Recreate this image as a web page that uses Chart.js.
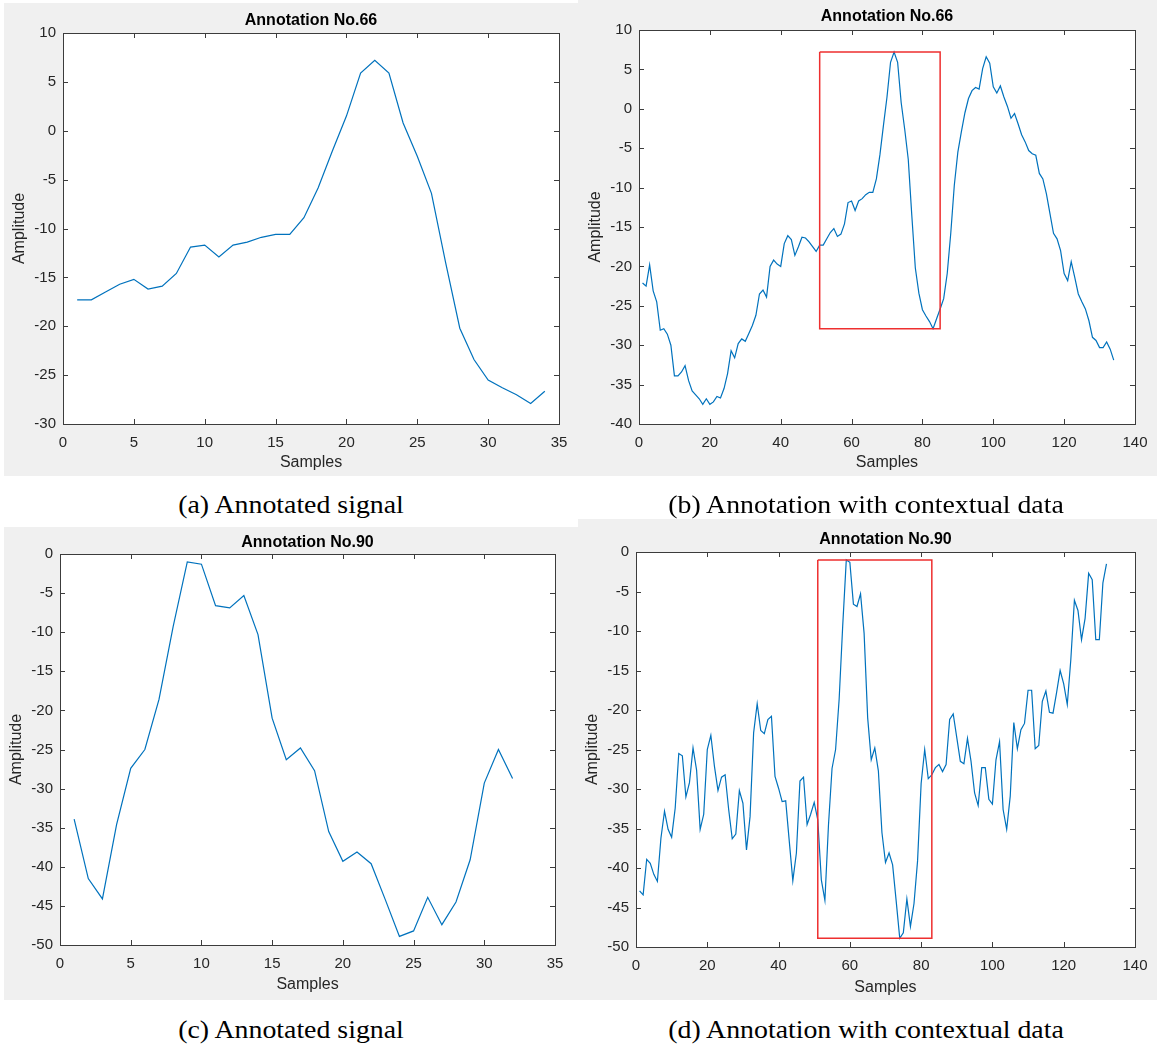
<!DOCTYPE html>
<html>
<head>
<meta charset="utf-8">
<script src="https://cdn.jsdelivr.net/npm/chart.js@4.4.1/dist/chart.umd.min.js"></script>
<style>
  html, body { margin: 0; padding: 0; background: #ffffff; }
  body { width: 1157px; height: 1047px; position: relative; overflow: hidden; }
  .panel { position: absolute; background: #f0f0f0; }
  .panel canvas { display: block; }
  .caption {
    position: absolute;
    font-family: "Liberation Serif", "Times New Roman", serif;
    font-size: 26px;
    line-height: 30px;
    color: #000;
    white-space: nowrap;
    transform: translateX(-50%) scaleX(1.07);
  }
</style>
</head>
<body>
<div class="panel" id="panelA"><canvas id="chartA"></canvas></div>
<div class="panel" id="panelB"><canvas id="chartB"></canvas></div>
<div class="panel" id="panelC"><canvas id="chartC"></canvas></div>
<div class="panel" id="panelD"><canvas id="chartD"></canvas></div>

<div class="caption" style="left:291px; top:490px;">(a) Annotated signal</div>
<div class="caption" style="left:866px; top:490px;">(b) Annotation with contextual data</div>
<div class="caption" style="left:291px; top:1015px;">(c) Annotated signal</div>
<div class="caption" style="left:866px; top:1015px;">(d) Annotation with contextual data</div>

<script>
// ---- Annotation No.66 ----
const annotated66 = [-17.3, -17.3, -16.5, -15.7, -15.2, -16.2, -15.9, -14.6, -11.9, -11.7,
  -12.9, -11.7, -11.4, -10.9, -10.6, -10.6, -8.9, -5.85, -2.1, 1.5,
  5.9, 7.2, 5.9, 0.8, -2.6, -6.4, -13.5, -20.2, -23.4, -25.5,
  -26.3, -27.0, -27.9, -26.65];
const before66 = [-22.1, -22.5, -19.8, -23.1, -24.5, -28.1, -27.9, -28.6, -30.0, -33.9,
  -33.9, -33.4, -32.6, -34.5, -35.8, -36.3, -36.8, -37.5, -36.8, -37.5,
  -37.2, -36.5, -36.7, -35.5, -33.6, -30.7, -31.6, -29.8, -29.2, -29.5,
  -28.5, -27.5, -26.2, -23.5, -23.0, -23.9, -20.0, -19.2, -19.7, -20.0,
  -17.1, -16.1, -16.6, -18.6, -17.5, -16.3, -16.4, -16.9, -17.5, -18.1];
const after66 = [-25.4, -24.1, -20.9, -15.8, -9.7, -5.5, -2.9, -0.5, 1.3, 2.3,
  2.7, 2.5, 5.1, 6.6, 5.8, 2.8, 2.0, 2.9, 1.5, 0.3,
  -1.2, -0.6, -1.9, -3.3, -4.2, -5.3, -5.7, -5.9, -8.2, -8.9,
  -10.8, -13.3, -15.8, -16.5, -18.0, -20.9, -21.8, -19.4, -21.4, -23.5,
  -24.5, -25.4, -26.9, -29.0, -29.4, -30.3, -30.3, -29.6, -30.5, -31.9];

// ---- Annotation No.90 ----
const annotated90 = [-33.9, -41.5, -44.1, -34.6, -27.4, -25.0, -18.6, -9.3, -1.0, -1.3,
  -6.6, -6.9, -5.3, -10.3, -21.0, -26.3, -24.8, -27.7, -35.5, -39.3,
  -38.1, -39.6, -44.2, -48.9, -48.2, -43.9, -47.4, -44.5, -39.1, -29.3,
  -25.0, -28.7];
const before90 = [-42.9, -43.4, -38.9, -39.4, -40.8, -41.7, -36.2, -32.8, -35.1, -36.1,
  -32.4, -25.5, -25.8, -31.0, -29.2, -24.8, -27.6, -35.1, -33.2, -25.0,
  -23.2, -27.1, -30.2, -28.5, -28.2, -32.6, -36.3, -35.7, -30.2, -31.8,
  -37.7, -33.5, -22.9, -19.2, -22.6, -23.0, -21.2, -20.8, -28.4, -29.9,
  -31.6, -31.5, -36.6, -41.6, -38.1, -29.0, -28.5, -34.5, -33.2, -31.7];
const after90 = [-28.2, -27.3, -26.9, -27.8, -26.9, -21.2, -20.5, -23.5, -26.5, -26.8,
  -23.6, -26.5, -30.5, -32.1, -27.3, -27.3, -31.3, -31.9, -26.3, -24.0,
  -32.6, -35.1, -30.9, -21.6, -24.9, -22.5, -21.7, -17.5, -17.5, -24.9,
  -24.5, -18.9, -17.6, -20.3, -20.4, -17.8, -15.0, -16.7, -19.3, -13.6,
  -6.1, -7.4, -11.1, -8.4, -2.7, -3.5, -11.1, -11.1, -3.9, -1.5];

// ---- Tick labels ----
const xTicksSignal = [0, 5, 10, 15, 20, 25, 30, 35];
const xTicksContext = [0, 20, 40, 60, 80, 100, 120, 140];
const yTicks66 = [-30, -25, -20, -15, -10, -5, 0, 5, 10];
const yTicks66Context = [-40, -35, -30, -25, -20, -15, -10, -5, 0, 5, 10];
const yTicks90 = [-50, -45, -40, -35, -30, -25, -20, -15, -10, -5, 0];

const titles = ['Annotation No.66', 'Annotation No.90'];
const xLabel = 'Samples';
const yLabel = 'Amplitude';
const annotationStart = 51; // sample index where the annotated segment begins inside the context window

// ---- styling ----
const SANS = '"Liberation Sans", Arial, Helvetica, sans-serif';
const TEXT = '#262626';
const AXIS = '#3c3c3c';
const LINE = '#0072bd';
const BOX = '#ee2f2f';
const TICK_LEN = 5;
const TICK_FONT = 15;
const LABEL_FONT = 16;
const TITLE_FONT = 16;

function toPoints(values, firstX) {
  return values.map((v, i) => ({ x: firstX + i, y: v }));
}

// Red rectangle outlining the annotated segment inside its context window
function boxOutline(segment, start) {
  const lo = Math.min(...segment), hi = Math.max(...segment);
  const x0 = start, x1 = start + segment.length;
  return [{ x: x0, y: hi }, { x: x1, y: hi }, { x: x1, y: lo }, { x: x0, y: lo }, { x: x0, y: hi }];
}

// MATLAB-like axes: white plot area, full box and inward ticks on all four sides
const matlabAxes = {
  id: 'matlabAxes',
  beforeDatasetsDraw(chart) {
    const { ctx, chartArea: a } = chart;
    ctx.save();
    ctx.fillStyle = '#ffffff';
    ctx.fillRect(a.left, a.top, a.right - a.left, a.bottom - a.top);
    ctx.restore();
  },
  afterDraw(chart) {
    const { ctx, chartArea: a, scales } = chart;
    ctx.save();
    ctx.strokeStyle = AXIS;
    ctx.lineWidth = 1;
    ctx.beginPath();
    scales.x.ticks.forEach(t => {
      const px = Math.round(scales.x.getPixelForValue(t.value)) + 0.5;
      ctx.moveTo(px, a.bottom); ctx.lineTo(px, a.bottom - TICK_LEN);
      ctx.moveTo(px, a.top); ctx.lineTo(px, a.top + TICK_LEN);
    });
    scales.y.ticks.forEach(t => {
      const py = Math.round(scales.y.getPixelForValue(t.value)) + 0.5;
      ctx.moveTo(a.left, py); ctx.lineTo(a.left + TICK_LEN, py);
      ctx.moveTo(a.right, py); ctx.lineTo(a.right - TICK_LEN, py);
    });
    ctx.stroke();
    ctx.strokeRect(Math.round(a.left) + 0.5, Math.round(a.top) + 0.5,
      Math.round(a.right - a.left), Math.round(a.bottom - a.top));
    ctx.restore();
  }
};

function makePanel(cfg) {
  const g = cfg.geom;
  const panel = document.getElementById(cfg.panel);
  panel.style.left = g.x + 'px';
  panel.style.top = g.y + 'px';
  panel.style.width = g.w + 'px';
  panel.style.height = g.h + 'px';
  const canvas = document.getElementById(cfg.canvas);
  canvas.width = g.w;
  canvas.height = g.h;

  const titleLH = TITLE_FONT * 1.2;
  const labelLH = LABEL_FONT * 1.2;
  const tickLH = TICK_FONT * 1.2;
  const titleTop = g.titleY - g.y - titleLH / 2;
  const titleBottom = (g.t - g.y) - titleLH - titleTop;
  const yWidth = g.l - g.x;
  const xHeight = (g.y + g.h) - g.b;
  const padRight = (g.x + g.w) - g.r;
  const xTitlePad = (g.y + g.h) - g.xTitleY - labelLH / 2;
  const yTitlePad = g.yTitleX - g.x - labelLH / 2;

  const datasets = [{
    data: cfg.series,
    borderColor: LINE,
    borderWidth: 1.2,
    pointRadius: 0,
    tension: 0,
    fill: false,
    order: 1
  }];
  if (cfg.box) {
    datasets.push({
      data: cfg.box,
      borderColor: BOX,
      borderWidth: 1.5,
      pointRadius: 0,
      tension: 0,
      fill: false,
      order: 0
    });
  }

  return new Chart(canvas, {
    type: 'line',
    data: { datasets },
    options: {
      responsive: false,
      animation: false,
      devicePixelRatio: 1,
      events: [],
      layout: { padding: { left: 0, top: 0, right: padRight, bottom: 0 } },
      plugins: {
        legend: { display: false },
        tooltip: { enabled: false },
        title: {
          display: true,
          fullSize: false,
          text: cfg.title,
          color: '#000000',
          font: { family: SANS, size: TITLE_FONT, weight: 'bold', lineHeight: 1.2 },
          padding: { top: titleTop, bottom: titleBottom }
        }
      },
      scales: {
        x: {
          type: 'linear',
          min: cfg.xTicks[0],
          max: cfg.xTicks[cfg.xTicks.length - 1],
          grid: { display: false, drawTicks: false },
          border: { display: false },
          ticks: { color: TEXT, font: { family: SANS, size: TICK_FONT, lineHeight: 1.2 },
                   padding: 18.5 - tickLH / 2, maxRotation: 0, autoSkip: false },
          title: { display: true, text: xLabel, color: TEXT, font: { family: SANS, size: LABEL_FONT, lineHeight: 1.2 },
                   padding: { top: 0, bottom: xTitlePad } },
          afterBuildTicks: s => { s.ticks = cfg.xTicks.map(v => ({ value: v })); },
          afterFit: s => { s.height = xHeight; }
        },
        y: {
          type: 'linear',
          min: cfg.yTicks[0],
          max: cfg.yTicks[cfg.yTicks.length - 1],
          grid: { display: false, drawTicks: false },
          border: { display: false },
          ticks: { color: TEXT, font: { family: SANS, size: TICK_FONT }, padding: 7, autoSkip: false },
          title: { display: true, text: yLabel, color: TEXT, font: { family: SANS, size: LABEL_FONT, lineHeight: 1.2 },
                   padding: { top: yTitlePad, bottom: 0 } },
          afterBuildTicks: s => { s.ticks = cfg.yTicks.map(v => ({ value: v })); },
          afterFit: s => { s.width = yWidth; }
        }
      }
    },
    plugins: [matlabAxes]
  });
}

const context66 = before66.concat(annotated66, after66);
const context90 = before90.concat(annotated90, after90);

makePanel({
  panel: 'panelA', canvas: 'chartA', title: titles[0],
  series: toPoints(annotated66, 1), xTicks: xTicksSignal, yTicks: yTicks66,
  geom: { x: 4, y: 3, w: 574, h: 473, l: 63, t: 33, r: 559, b: 424, titleY: 21, xTitleY: 463, yTitleX: 20 }
});
makePanel({
  panel: 'panelB', canvas: 'chartB', title: titles[0],
  series: toPoints(context66, 1), xTicks: xTicksContext, yTicks: yTicks66Context,
  box: boxOutline(annotated66, annotationStart),
  geom: { x: 578, y: 0, w: 579, h: 476, l: 639, t: 30, r: 1140, b: 424, titleY: 17, xTitleY: 463, yTitleX: 596 }
});
makePanel({
  panel: 'panelC', canvas: 'chartC', title: titles[1],
  series: toPoints(annotated90, 1), xTicks: xTicksSignal, yTicks: yTicks90,
  geom: { x: 4, y: 527, w: 574, h: 473, l: 60, t: 554, r: 555, b: 945, titleY: 543, xTitleY: 985, yTitleX: 17 }
});
makePanel({
  panel: 'panelD', canvas: 'chartD', title: titles[1],
  series: toPoints(context90, 1), xTicks: xTicksContext, yTicks: yTicks90,
  box: boxOutline(annotated90, annotationStart),
  geom: { x: 578, y: 519, w: 579, h: 481, l: 636, t: 552, r: 1136, b: 947, titleY: 540, xTitleY: 988, yTitleX: 593 }
});
</script>
</body>
</html>
